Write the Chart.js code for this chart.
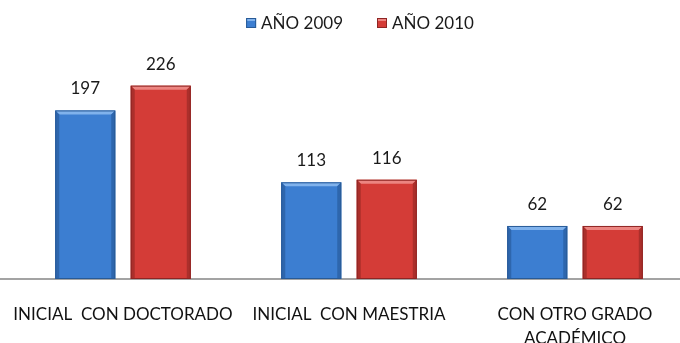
<!DOCTYPE html>
<html>
<head>
<meta charset="utf-8">
<script src="https://cdn.jsdelivr.net/npm/chart.js@4.4.0/dist/chart.umd.min.js"></script>
<style>
  html, body { margin: 0; padding: 0; background: #fff; overflow: hidden; }
  #contenedor { position: relative; width: 700px; height: 343px; }
</style>
</head>
<body>
<div id="contenedor"><canvas id="graficoGrados" width="700" height="343"></canvas></div>
<script>
// Docentes por grado académico
const categorias = [["INICIAL  CON DOCTORADO"], ["INICIAL  CON MAESTRIA"], ["CON OTRO GRADO", "ACADÉMICO"]];
const series = ["AÑO 2009", "AÑO 2010"];
const valores2009 = [197, 113, 62];
const valores2010 = [226, 116, 62];

// colores de cada serie: relleno, bisel claro, bisel oscuro, borde
const colores = [
    { base: "#3c7ed1", claro: "#80b2ec", oscuro: "#2e66ad", borde: "#285a96" },
    { base: "#d43c37", claro: "#ec8581", oscuro: "#ab2f2b", borde: "#8e2523" }
];

const fuente = "Lato, 'Open Sans', sans-serif";

// línea base gris a todo lo ancho
const lineaBase = {
    id: "lineaBase",
    beforeDatasetsDraw(chart) {
        const ctx = chart.ctx;
        const y = chart.scales.y.getPixelForValue(0);
        ctx.save();
        ctx.strokeStyle = "#a3a3a3";
        ctx.lineWidth = 2;
        ctx.beginPath();
        ctx.moveTo(0, y);
        ctx.lineTo(chart.width, y);
        ctx.stroke();
        ctx.restore();
    }
};

// bisel sobre cada barra y el valor encima
const biselYValores = {
    id: "biselYValores",
    afterDatasetsDraw(chart) {
        const ctx = chart.ctx;
        const b = 4;
        ctx.save();
        chart.data.datasets.forEach((ds, i) => {
            const c = colores[i];
            chart.getDatasetMeta(i).data.forEach((bar, j) => {
                const l = bar.x - bar.width / 2;
                const r = bar.x + bar.width / 2;
                const t = bar.y;
                const bot = bar.base;

                const poly = (pts, color) => {
                    ctx.fillStyle = color;
                    ctx.beginPath();
                    ctx.moveTo(pts[0][0], pts[0][1]);
                    pts.slice(1).forEach(p => ctx.lineTo(p[0], p[1]));
                    ctx.closePath();
                    ctx.fill();
                };
                poly([[l, t], [r, t], [r - b, t + b], [l + b, t + b]], c.claro);
                poly([[l, t], [l + b, t + b], [l + b, bot], [l, bot]], c.oscuro);
                poly([[r, t], [r, bot], [r - b, bot], [r - b, t + b]], c.oscuro);

                ctx.strokeStyle = c.borde;
                ctx.lineWidth = 1;
                ctx.strokeRect(l + 0.5, t + 0.5, bar.width - 1, bot - t - 1);

                ctx.fillStyle = "#1a1a1a";
                ctx.font = "17px " + fuente;
                ctx.textAlign = "center";
                ctx.textBaseline = "bottom";
                ctx.fillText(ds.data[j], bar.x, t - 13);
            });
        });
        ctx.restore();
    }
};

// leyenda arriba al centro
const leyenda = {
    id: "leyenda",
    afterDraw(chart) {
        const ctx = chart.ctx;
        ctx.save();
        ctx.font = "17px " + fuente;
        ctx.textBaseline = "middle";
        ctx.textAlign = "left";
        const caja = 10, sep = 5, hueco = 34, y = 23;
        const anchos = chart.data.datasets.map(ds => caja + sep + ctx.measureText(ds.label).width);
        const total = anchos.reduce((a, w) => a + w, 0) + hueco * (anchos.length - 1);
        let x = chart.width / 2 + 10 - total / 2;
        chart.data.datasets.forEach((ds, i) => {
            const c = colores[i];
            ctx.fillStyle = c.base;
            ctx.fillRect(x, y - caja / 2, caja, caja);
            ctx.fillStyle = c.claro;
            ctx.fillRect(x + 1, y - caja / 2 + 1, caja - 2, 2);
            ctx.strokeStyle = c.borde;
            ctx.strokeRect(x + 0.5, y - caja / 2 + 0.5, caja - 1, caja - 1);
            ctx.fillStyle = "#1a1a1a";
            ctx.fillText(ds.label, x + caja + sep, y + 1);
            x += anchos[i] + hueco;
        });
        ctx.restore();
    }
};

new Chart(document.getElementById("graficoGrados"), {
    type: "bar",
    data: {
        labels: categorias,
        datasets: [
            { label: series[0], data: valores2009, backgroundColor: colores[0].base },
            { label: series[1], data: valores2010, backgroundColor: colores[1].base }
        ]
    },
    options: {
        responsive: false,
        animation: false,
        devicePixelRatio: 1,
        barPercentage: 0.795,
        categoryPercentage: 0.668,
        layout: { padding: { left: 10, right: 12, top: 48, bottom: 0 } },
        plugins: {
            legend: { display: false },
            tooltip: { enabled: false }
        },
        scales: {
            x: {
                grid: { display: false, drawTicks: true, tickLength: 23 },
                border: { display: false },
                ticks: {
                    color: "#111",
                    font: { family: fuente, size: 17, lineHeight: 1.42 },
                    padding: 0,
                    maxRotation: 0,
                    autoSkip: false
                },
                afterFit: s => { s.height = 64; }
            },
            y: { display: false, min: 0, max: 270 }
        }
    },
    plugins: [lineaBase, biselYValores, leyenda]
});
</script>
</body>
</html>
